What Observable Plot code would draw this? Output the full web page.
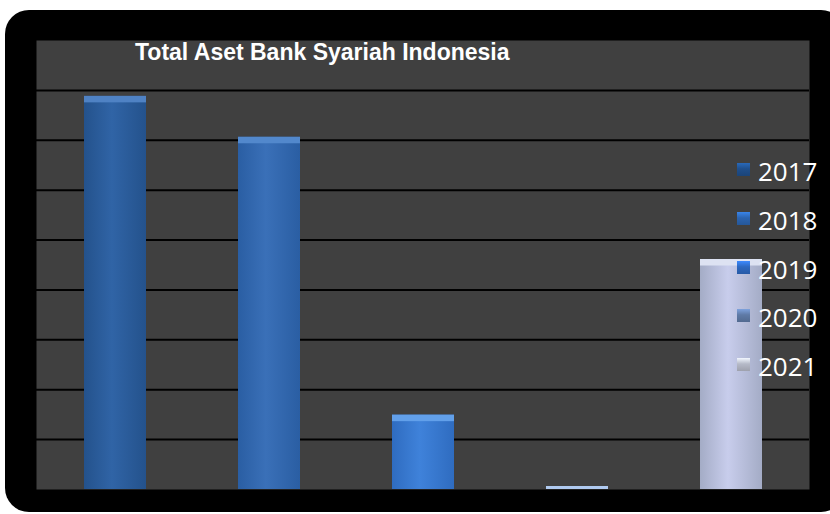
<!DOCTYPE html>
<html>
<head>
<meta charset="utf-8">
<script src="https://cdn.jsdelivr.net/npm/d3@7"></script>
<script src="https://cdn.jsdelivr.net/npm/@observablehq/plot@0.6"></script>
<style>
  html, body { margin: 0; padding: 0; background: #ffffff; width: 830px; height: 514px; overflow: hidden; }
  #wrap { position: relative; width: 830px; height: 514px; }
  #card { position: absolute; left: 5px; top: 10px; width: 840px; height: 502px; background: #000; border-radius: 24px; }
  #chart { position: absolute; left: 0; top: 0; }
  #title { position: absolute; left: 135px; top: 41px; color: #fff; font: bold 23px "Liberation Sans", "DejaVu Sans", sans-serif; line-height: 23px; letter-spacing: 0px; white-space: nowrap; }
  #legend { position: absolute; left: 737px; top: 155px; }
  .item { position: relative; height: 48.8px; }
  .sw { position: absolute; left: 0; top: 8px; width: 13px; height: 13px; }
  .lab { position: absolute; left: 21px; top: 0px; color: #fff; font: 26px "Open Sans", sans-serif; line-height: 32px; }
</style>
</head>
<body>
<div id="wrap">
  <div id="card"></div>
  <div id="chart"></div>
  <div id="title"></div>
  <div id="legend"></div>
</div>
<script>
const chartTitle = "Total Aset Bank Syariah Indonesia";
const years = ["2017", "2018", "2019", "2020", "2021"];
const values = [7.88, 7.06, 1.49, 0.06, 4.61];
const gridTicks = [1, 2, 3, 4, 5, 6, 7, 8];
const edgeColors = ["#24528c", "#2a5ea3", "#2f6cc0", "#7f9fd0", "#a4acc6"];
const midColors = ["#3064a6", "#3a70b8", "#3f82da", "#9ab8e6", "#c8cdec"];
const bevelColors = ["#4f82c4", "#5288cc", "#62a0ea", "#b0caf0", "#dde2f2"];
const swatchColors = ["#1f4f8c", "#2b64b0", "#2d68c0", "#5f7aa6", "#b6bac8"];

const data = years.map((y, i) => ({year: y, value: values[i], bevel: Math.max(0, values[i] - 0.13)}));

const plot = Plot.plot({
  width: 830,
  height: 514,
  marginLeft: 36,
  marginRight: 21,
  marginTop: 40,
  marginBottom: 25,
  style: {background: "transparent"},
  x: {domain: years, paddingInner: 0.6, paddingOuter: 0.3, axis: null},
  y: {domain: [0, 9], axis: null},
  color: {type: "ordinal", domain: years, range: years.map((y, i) => `url(#g${i})`)},
  marks: [
    Plot.frame({fill: "#404040", stroke: null}),
    Plot.ruleY(gridTicks, {stroke: "#000", strokeWidth: 2}),
    Plot.barY(data, {x: "year", y: "value", fill: "year"}),
    Plot.rectY(data, {x: "year", y1: "bevel", y2: "value", fill: (d) => bevelColors[years.indexOf(d.year)]})
  ]
});

const defs = d3.select(plot).insert("defs", ":first-child");
years.forEach((y, i) => {
  const g = defs.append("linearGradient").attr("id", `g${i}`).attr("x1", "0").attr("x2", "1").attr("y1", "0").attr("y2", "0");
  g.append("stop").attr("offset", "0%").attr("stop-color", edgeColors[i]);
  g.append("stop").attr("offset", "45%").attr("stop-color", midColors[i]);
  g.append("stop").attr("offset", "100%").attr("stop-color", edgeColors[i]);
});
document.getElementById("chart").appendChild(plot);
document.getElementById("title").textContent = chartTitle;

const legend = d3.select("#legend");
years.forEach((y, i) => {
  const it = legend.append("div").attr("class", "item");
  it.append("div").attr("class", "sw")
    .style("background", `linear-gradient(to bottom, ${d3.color(swatchColors[i]).brighter(0.8)} 0%, ${swatchColors[i]} 45%, ${d3.color(swatchColors[i]).darker(0.4)} 100%)`);
  it.append("div").attr("class", "lab").text(y);
});
</script>
</body>
</html>
